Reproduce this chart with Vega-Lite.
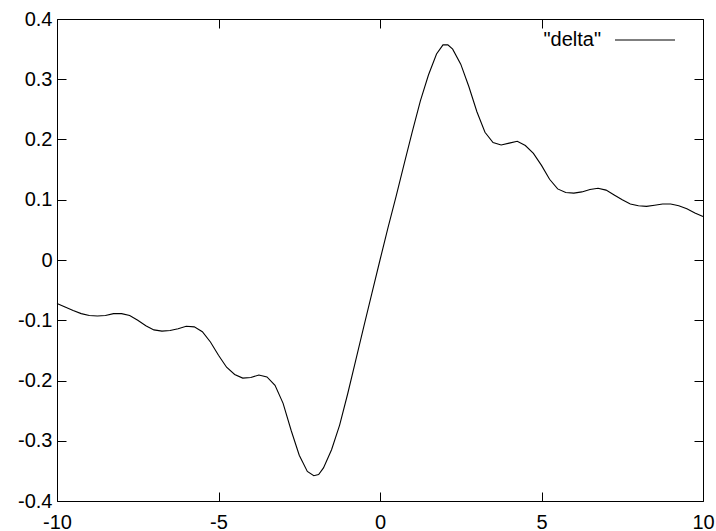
{
  "$schema": "https://vega.github.io/schema/vega-lite/v6.json",
  "width": 646,
  "height": 482,
  "autosize": "none",
  "padding": {"left": 57, "top": 19, "right": 13, "bottom": 30},
  "background": "white",
  "config": {
    "view": {"stroke": "black", "strokeWidth": 1},
    "font": "Liberation Sans",
    "axis": {
      "grid": false,
      "labelColor": "black",
      "labelFont": "Liberation Sans",
      "labelFontSize": 20,
      "title": null
    }
  },
  "data": {
    "values": [
      {"x": -10, "y": -0.072, "s": "\"delta\""},
      {"x": -9.75, "y": -0.078, "s": "\"delta\""},
      {"x": -9.5, "y": -0.084, "s": "\"delta\""},
      {"x": -9.25, "y": -0.089, "s": "\"delta\""},
      {"x": -9.0, "y": -0.092, "s": "\"delta\""},
      {"x": -8.75, "y": -0.093, "s": "\"delta\""},
      {"x": -8.5, "y": -0.092, "s": "\"delta\""},
      {"x": -8.25, "y": -0.089, "s": "\"delta\""},
      {"x": -8.0, "y": -0.089, "s": "\"delta\""},
      {"x": -7.75, "y": -0.092, "s": "\"delta\""},
      {"x": -7.5, "y": -0.1, "s": "\"delta\""},
      {"x": -7.25, "y": -0.109, "s": "\"delta\""},
      {"x": -7.0, "y": -0.116, "s": "\"delta\""},
      {"x": -6.75, "y": -0.118, "s": "\"delta\""},
      {"x": -6.5, "y": -0.117, "s": "\"delta\""},
      {"x": -6.25, "y": -0.114, "s": "\"delta\""},
      {"x": -6.0, "y": -0.11, "s": "\"delta\""},
      {"x": -5.75, "y": -0.111, "s": "\"delta\""},
      {"x": -5.5, "y": -0.119, "s": "\"delta\""},
      {"x": -5.25, "y": -0.136, "s": "\"delta\""},
      {"x": -5.0, "y": -0.158, "s": "\"delta\""},
      {"x": -4.75, "y": -0.178, "s": "\"delta\""},
      {"x": -4.5, "y": -0.19, "s": "\"delta\""},
      {"x": -4.25, "y": -0.196, "s": "\"delta\""},
      {"x": -4.0, "y": -0.195, "s": "\"delta\""},
      {"x": -3.75, "y": -0.191, "s": "\"delta\""},
      {"x": -3.5, "y": -0.194, "s": "\"delta\""},
      {"x": -3.25, "y": -0.208, "s": "\"delta\""},
      {"x": -3.0, "y": -0.238, "s": "\"delta\""},
      {"x": -2.75, "y": -0.283, "s": "\"delta\""},
      {"x": -2.5, "y": -0.324, "s": "\"delta\""},
      {"x": -2.25, "y": -0.351, "s": "\"delta\""},
      {"x": -2.05, "y": -0.358, "s": "\"delta\""},
      {"x": -1.9, "y": -0.356, "s": "\"delta\""},
      {"x": -1.75, "y": -0.345, "s": "\"delta\""},
      {"x": -1.5, "y": -0.315, "s": "\"delta\""},
      {"x": -1.25, "y": -0.274, "s": "\"delta\""},
      {"x": -1.0, "y": -0.222, "s": "\"delta\""},
      {"x": -0.75, "y": -0.166, "s": "\"delta\""},
      {"x": -0.5, "y": -0.11, "s": "\"delta\""},
      {"x": -0.25, "y": -0.055, "s": "\"delta\""},
      {"x": 0, "y": 0, "s": "\"delta\""},
      {"x": 0.25, "y": 0.054, "s": "\"delta\""},
      {"x": 0.5, "y": 0.106, "s": "\"delta\""},
      {"x": 0.75, "y": 0.16, "s": "\"delta\""},
      {"x": 1.0, "y": 0.213, "s": "\"delta\""},
      {"x": 1.25, "y": 0.264, "s": "\"delta\""},
      {"x": 1.5, "y": 0.307, "s": "\"delta\""},
      {"x": 1.75, "y": 0.342, "s": "\"delta\""},
      {"x": 1.95, "y": 0.357, "s": "\"delta\""},
      {"x": 2.1, "y": 0.357, "s": "\"delta\""},
      {"x": 2.25, "y": 0.35, "s": "\"delta\""},
      {"x": 2.5, "y": 0.325, "s": "\"delta\""},
      {"x": 2.75, "y": 0.288, "s": "\"delta\""},
      {"x": 3.0, "y": 0.246, "s": "\"delta\""},
      {"x": 3.25, "y": 0.212, "s": "\"delta\""},
      {"x": 3.5, "y": 0.195, "s": "\"delta\""},
      {"x": 3.75, "y": 0.191, "s": "\"delta\""},
      {"x": 4.0, "y": 0.194, "s": "\"delta\""},
      {"x": 4.25, "y": 0.197, "s": "\"delta\""},
      {"x": 4.5, "y": 0.19, "s": "\"delta\""},
      {"x": 4.75, "y": 0.177, "s": "\"delta\""},
      {"x": 5.0, "y": 0.157, "s": "\"delta\""},
      {"x": 5.25, "y": 0.134, "s": "\"delta\""},
      {"x": 5.5, "y": 0.118, "s": "\"delta\""},
      {"x": 5.75, "y": 0.112, "s": "\"delta\""},
      {"x": 6.0, "y": 0.111, "s": "\"delta\""},
      {"x": 6.25, "y": 0.113, "s": "\"delta\""},
      {"x": 6.5, "y": 0.117, "s": "\"delta\""},
      {"x": 6.75, "y": 0.119, "s": "\"delta\""},
      {"x": 7.0, "y": 0.116, "s": "\"delta\""},
      {"x": 7.25, "y": 0.108, "s": "\"delta\""},
      {"x": 7.5, "y": 0.1, "s": "\"delta\""},
      {"x": 7.75, "y": 0.093, "s": "\"delta\""},
      {"x": 8.0, "y": 0.09, "s": "\"delta\""},
      {"x": 8.25, "y": 0.089, "s": "\"delta\""},
      {"x": 8.5, "y": 0.091, "s": "\"delta\""},
      {"x": 8.75, "y": 0.093, "s": "\"delta\""},
      {"x": 9.0, "y": 0.093, "s": "\"delta\""},
      {"x": 9.25, "y": 0.09, "s": "\"delta\""},
      {"x": 9.5, "y": 0.085, "s": "\"delta\""},
      {"x": 9.75, "y": 0.078, "s": "\"delta\""},
      {"x": 10, "y": 0.072, "s": "\"delta\""}
    ]
  },
  "layer": [
    {
      "mark": {"type": "line", "strokeWidth": 1.1, "interpolate": "linear"},
      "encoding": {
        "x": {"field": "x", "type": "quantitative",
              "scale": {"domain": [-10, 10], "nice": false, "zero": false},
              "axis": {"orient": "bottom", "tickCount": 4, "labelPadding": 11, "labelFlush": false,
                       "tickSize": 9, "offset": -9, "tickColor": "black", "tickWidth": 1, "domain": false,
                       "labelExpr": "replace(format(datum.value, 'd'), '\u2212', '-')"}},
        "y": {"field": "y", "type": "quantitative",
              "scale": {"domain": [-0.4, 0.4], "nice": false, "zero": false},
              "axis": {"orient": "left", "tickCount": 8, "labelPadding": 5, "labelFlush": false,
                       "tickSize": 9, "offset": -9, "tickColor": "black", "tickWidth": 1, "domain": false,
                       "labelExpr": "datum.value == 0 ? '0' : replace(format(datum.value, '.1f'), '\u2212', '-')"}},
        "color": {"field": "s", "type": "nominal",
                  "scale": {"range": ["black"]},
                  "legend": {"title": null, "orient": "none", "legendX": 557, "legendY": -10,
                             "symbolType": "stroke", "symbolSize": 3600, "symbolStrokeWidth": 1.1,
                             "labelAlign": "right", "labelOffset": -75, "labelFontSize": 20,
                             "labelFont": "Liberation Sans", "labelColor": "black", "labelLimit": 0}}
      }
    },
    {
      "mark": {"type": "line", "opacity": 0},
      "encoding": {
        "x": {"field": "x", "type": "quantitative",
              "axis": {"orient": "top", "tickCount": 4, "labels": false,
                       "tickSize": 9, "offset": -9, "tickColor": "black", "tickWidth": 1, "domain": false}},
        "y": {"field": "y", "type": "quantitative",
              "axis": {"orient": "right", "tickCount": 8, "labels": false,
                       "tickSize": 9, "offset": -9, "tickColor": "black", "tickWidth": 1, "domain": false}}
      }
    }
  ],
  "resolve": {"axis": {"x": "independent", "y": "independent"}}
}
